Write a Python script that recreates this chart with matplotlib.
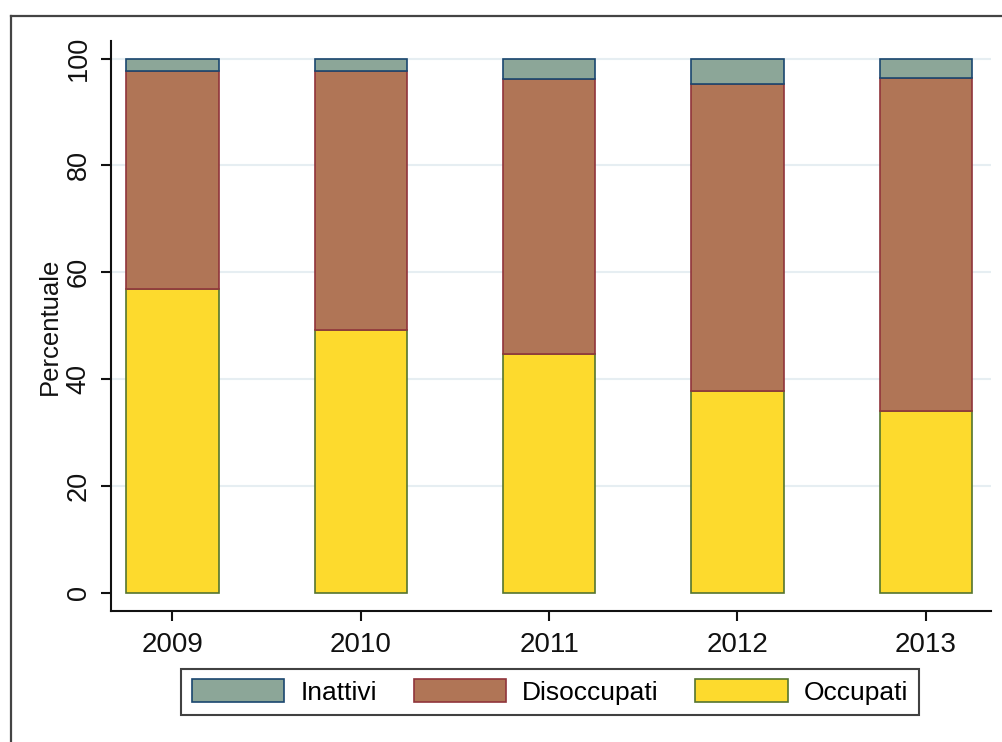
import matplotlib
matplotlib.use("Agg")
import matplotlib.pyplot as plt
from matplotlib.lines import Line2D
import numpy as np

years = ["2009", "2010", "2011", "2012", "2013"]
occupati = [56.8, 49.2, 44.7, 37.7, 34.1]
disoccupati = [40.9, 48.4, 51.4, 57.6, 62.3]
inattivi = [2.3, 2.4, 3.9, 4.7, 3.6]
y_ticks = [0, 20, 40, 60, 80, 100]

plt.rcParams['font.family'] = ['Liberation Sans', 'DejaVu Sans']

fig = plt.figure(figsize=(10.03, 7.42), dpi=100)
ax = fig.add_axes([111 / 1003, 1 - 611 / 742, (991 - 111) / 1003, (611 - 41) / 742])

x = np.arange(len(years))
w = 0.49
occ = np.array(occupati)
dis = np.array(disoccupati)
ina = np.array(inattivi)

for yv in y_ticks[1:]:
    ax.axhline(yv, color='#e6eef2', lw=1.5, zorder=0)

ax.bar(x, occ, w, color='#fdda2d', edgecolor='#55752f', lw=1.2, label='Occupati', zorder=2)
ax.bar(x, dis, w, bottom=occ, color='#b07556', edgecolor='#90353b', lw=1.2, label='Disoccupati', zorder=2)
ax.bar(x, ina, w, bottom=occ + dis, color='#8ca698', edgecolor='#1a476f', lw=1.2, label='Inattivi', zorder=2)

ax.set_xlim(-0.326, 4.346)
ax.set_ylim(-3.4, 103.3)
ax.set_xticks(x)
ax.set_xticklabels(years)
ax.set_yticks(y_ticks)
ax.set_yticklabels([str(v) for v in y_ticks])

for s in ['top', 'right']:
    ax.spines[s].set_visible(False)
for s in ['left', 'bottom']:
    ax.spines[s].set_linewidth(1.5)
    ax.spines[s].set_color('#111111')

ax.tick_params(axis='x', length=7, width=1.5, pad=8, labelsize=20, colors='#111111')
ax.tick_params(axis='y', length=7, width=1.5, pad=7, labelsize=19.5, colors='#111111',
               labelrotation=90)
for lab in ax.get_yticklabels():
    lab.set_va('center')
    lab.set_ha('right')

ax.set_ylabel('Percentuale', fontsize=18.5, color='#111111')
ax.yaxis.set_label_coords(-0.056, 0.5)

handles, labels = ax.get_legend_handles_labels()
leg = fig.legend(handles[::-1], labels[::-1], loc='center',
                 bbox_to_anchor=(550 / 1003, 1 - 692 / 742), ncol=3, fontsize=19,
                 frameon=True, fancybox=False, edgecolor='#111111',
                 handlelength=3.5, handleheight=0.95, handletextpad=0.6,
                 columnspacing=1.4, borderpad=0.4)
leg.get_frame().set_linewidth(1.5)

# outer frame (left and top edges)
fig.add_artist(Line2D([10.5 / 1003, 10.5 / 1003], [0, 1 - 16 / 742],
                      transform=fig.transFigure, color='#444444', lw=1.6))
fig.add_artist(Line2D([10.5 / 1003, 1], [1 - 16 / 742, 1 - 16 / 742],
                      transform=fig.transFigure, color='#444444', lw=1.6))

fig.savefig('out.png', dpi=100)
